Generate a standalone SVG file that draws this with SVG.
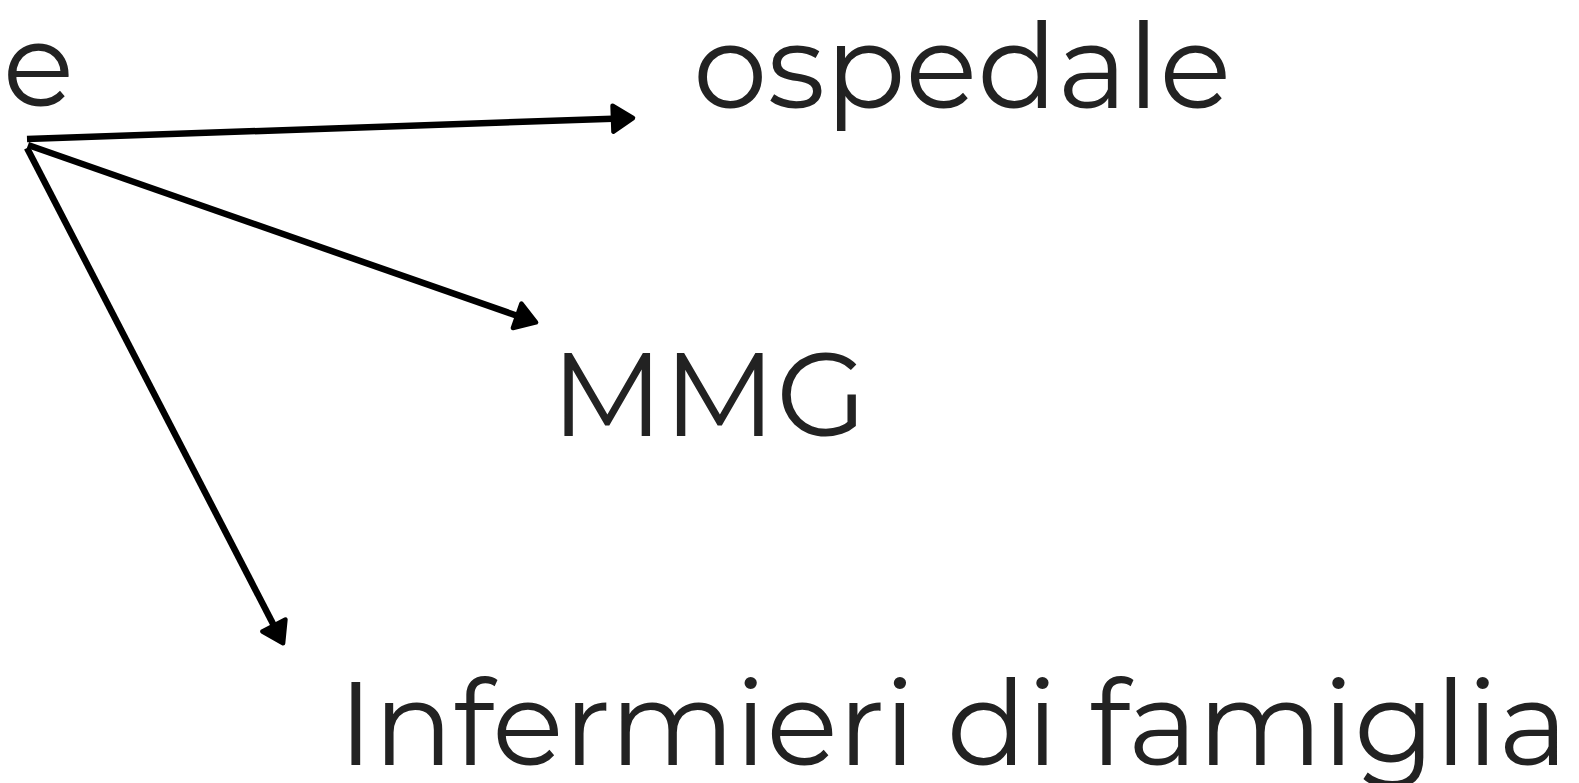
<svg xmlns="http://www.w3.org/2000/svg" width="1579" height="783" viewBox="0 0 1579 783">
<style>
.t{font-family:"Montserrat","Noto Sans","Open Sans",sans-serif;font-size:118px;fill:#222222}
.c{stroke:#000;stroke-width:6.5;fill:none;stroke-linecap:butt}
</style>
<defs>
<marker id="ah" markerUnits="userSpaceOnUse" viewBox="-12 -18 32 36" markerWidth="32" markerHeight="36" refX="0" refY="0" orient="auto" overflow="visible">
<polygon points="-7,-13 13,0 -7,13" fill="#000" stroke="#000" stroke-width="4.5" stroke-linejoin="round"/>
</marker>
</defs>
<rect width="1579" height="783" fill="#fff"/>
<g id="node-source"><text class="t" x="74" y="106" text-anchor="end">e</text></g>
<g id="node-ospedale"><text class="t" x="693" y="108" textLength="538" lengthAdjust="spacingAndGlyphs">ospedale</text></g>
<g id="node-mmg"><text class="t" x="551" y="436" textLength="316" lengthAdjust="spacingAndGlyphs">MMG</text></g>
<g id="node-infermieri"><text class="t" x="338" y="765" textLength="1230" lengthAdjust="spacingAndGlyphs">Infermieri di famiglia</text></g>
<g id="connectors">
<path class="c" d="M27,139 L620,118.5" marker-end="url(#ah)"/>
<path class="c" d="M28,145 L523.8,318.1" marker-end="url(#ah)"/>
<path class="c" d="M27,148 L277.1,631.7" marker-end="url(#ah)"/>
</g>
</svg>
